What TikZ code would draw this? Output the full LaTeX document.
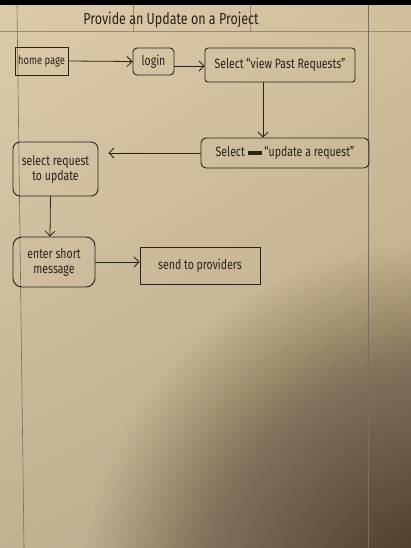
\documentclass[tikz,border=0pt]{standalone}
\usepackage{fontspec}
\setmainfont{Fira Sans}[FakeStretch=0.78]
\usetikzlibrary{arrows.meta,shadings}
\definecolor{paper}{HTML}{D8C4A2}
\definecolor{ink}{HTML}{2B2119}
\definecolor{rule}{HTML}{9C8A70}
\definecolor{shadow}{HTML}{2A1E12}
\tikzset{
  box/.style={draw=ink, line width=0.9pt, text=ink, align=center, inner sep=1pt, font=\fontsize{13.5}{15}\selectfont},
  arr/.style={draw=ink, line width=0.8pt, -{Straight Barb[length=5pt,width=10pt]}},
}
\begin{document}
\begin{tikzpicture}[x=1pt,y=-1pt]
\useasboundingbox (0,0) rectangle (411,548);
% paper
\shade[upper left=paper!90!white, upper right=paper!97!black, lower left=paper!90!black, lower right=paper!85!black] (0,0) rectangle (411,548);
\begin{scope}
\clip (0,0) rectangle (411,548);
\foreach \r in {10,14,...,360} {
  \fill[shadow, opacity=0.011] (440,600) circle (\r);
}
\end{scope}
\fill[black] (0,0) rectangle (411,5);
% ruled lines
\draw[rule, line width=0.6pt] (0,31) -- (411,31);
\draw[rule!80!black, line width=0.6pt] (17,5) -- (24,548);
\draw[rule!80!black, line width=0.6pt] (368,5) -- (368,548);
\draw[rule, line width=0.5pt] (133,5) -- (133,31);
\draw[rule, line width=0.5pt] (250,5) -- (250,31);
% title
\node[text=ink, font=\fontsize{16}{18}\selectfont] (title) at (171,20) {Provide an Update on a Project};
% boxes
\node[box, minimum width=53pt, minimum height=28pt, font=\fontsize{12}{14}\selectfont] (home) at (41.5,61) {home page};
\node[box, rounded corners=4pt, minimum width=41pt, minimum height=27pt] (login) at (153.5,61.5) {login};
\node[box, rounded corners=3pt, minimum width=150pt, minimum height=34pt] (past) at (280,65) {Select “view Past Requests”};
\node[box, rounded corners=5pt, minimum width=168pt, minimum height=30pt] (upd) at (285,153) {Select \rule[0.3ex]{14pt}{4pt} “update a request”};
\node[box, rounded corners=7pt, minimum width=85pt, minimum height=54pt] (sel) at (55.5,169) {select request\\to update};
\node[box, rounded corners=9pt, minimum width=82pt, minimum height=50pt] (enter) at (54,262) {enter short\\message};
\node[box, minimum width=120pt, minimum height=37pt] (send) at (200,266) {send to providers};
% connectors
\draw[arr] (home.east) -- (login.west);
\draw[arr] (login.east |- 0,66) -- (past.west |- 0,66);
\draw[arr] ([xshift=-17pt]past.south) -- ([xshift=-22pt]upd.north);
\draw[arr, shorten >=10pt] (upd.west) -- (sel.east |- upd.west);
\draw[arr] ([xshift=-5pt]sel.south) -- ([xshift=-4pt]enter.north);
\draw[arr] (enter.east) -- (send.west |- enter.east);
\end{tikzpicture}
\end{document}
